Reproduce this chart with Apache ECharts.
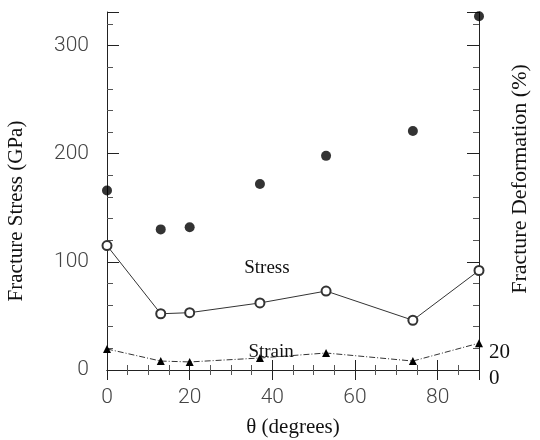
<!DOCTYPE html>
<html>
<head>
<meta charset="utf-8">
<script src="https://cdn.jsdelivr.net/npm/echarts@6/dist/echarts.min.js"></script>
<style>
  html, body { margin: 0; padding: 0; background: #fff; }
  #chart { width: 540px; height: 440px; }
</style>
</head>
<body>
<div id="chart"></div>
<script>
// angles (degrees)
const theta = [0, 13, 20, 37, 53, 74, 90]
// filled circles, GPa
const fracture = [166, 130, 132, 172, 198, 221, 327]
// open circles line, GPa
const stress = [115, 52, 53, 62, 73, 46, 92]
// triangles line, % (right axis)
const strain = [23.5, 10, 9, 13.4, 19, 10, 30]

const pairs = ys => theta.map((t, i) => [t, ys[i]])

const chart = echarts.init(document.getElementById('chart'))

const numFont = { fontFamily: 'Roboto', fontWeight: 300, color: '#444', fontSize: 21 }
const serif = 'Liberation Serif'

chart.setOption({
  animation: false,
  grid: { left: 107, right: 61, top: 12, bottom: 70, containLabel: false, outerBoundsMode: 'none' },
  xAxis: [
    {
      type: 'value', min: 0, max: 90, interval: 20,
      name: 'θ (degrees)', nameLocation: 'middle', nameGap: 47,
      nameTextStyle: { fontFamily: serif, fontSize: 21, color: '#111' },
      axisLine: { lineStyle: { color: '#222' } },
      axisTick: { inside: true, length: 10, lineStyle: { color: '#222' } },
      minorTick: { show: true, splitNumber: 4, length: 5, lineStyle: { color: '#555' } },
      splitLine: { show: false },
      axisLabel: { ...numFont, margin: 17, showMaxLabel: false }
    },
    {
      type: 'value', min: 0, max: 90, interval: 20, position: 'top',
      axisLine: { lineStyle: { color: '#222' } },
      axisTick: { inside: true, length: 10, lineStyle: { color: '#222' } },
      minorTick: { show: true, splitNumber: 4, length: 5, lineStyle: { color: '#555' } },
      splitLine: { show: false },
      axisLabel: { show: false }
    }
  ],
  yAxis: [
    {
      type: 'value', min: 0, max: 331, interval: 100,
      name: 'Fracture Stress (GPa)', nameLocation: 'middle', nameGap: 80,
      nameTextStyle: { fontFamily: serif, fontSize: 21, color: '#111', padding: [0, 40, 0, 0] },
      axisLine: { show: true, lineStyle: { color: '#222' } },
      axisTick: { inside: true, length: 12, lineStyle: { color: '#222' } },
      minorTick: { show: true, splitNumber: 5, length: 6, lineStyle: { color: '#555' } },
      splitLine: { show: false },
      axisLabel: { ...numFont, margin: 18, showMaxLabel: false }
    },
    {
      // strain scale, labels only
      type: 'value', min: 0, max: 400, interval: 20, position: 'right',
      name: 'Fracture Deformation (%)', nameLocation: 'middle', nameGap: 30, nameRotate: 90,
      nameMoveOverlap: false,
      nameTextStyle: { fontFamily: serif, fontSize: 22, color: '#111', padding: [0, 0, 0, 24] },
      axisLine: { show: false },
      axisTick: { show: false },
      splitLine: { show: false },
      axisLabel: {
        fontFamily: serif, fontSize: 21, color: '#111', margin: 10,
        formatter: v => v === 0 ? '{z|0}' : (v === 20 ? '20' : ''),
        rich: { z: { fontFamily: serif, fontSize: 21, color: '#111', padding: [16, 0, 0, 0] } }
      }
    },
    {
      // mirror ticks on the right frame
      type: 'value', min: 0, max: 331, interval: 100, position: 'right',
      axisLine: { show: true, lineStyle: { color: '#222' } },
      axisTick: { inside: true, length: 12, lineStyle: { color: '#222' } },
      minorTick: { show: true, splitNumber: 5, length: 6, lineStyle: { color: '#555' } },
      splitLine: { show: false },
      axisLabel: { show: false }
    }
  ],
  series: [
    {
      type: 'scatter', data: pairs(fracture), xAxisIndex: 0, yAxisIndex: 0,
      symbol: 'circle', symbolSize: 10, clip: false,
      itemStyle: { color: '#000' }
    },
    {
      type: 'line', data: pairs(stress), xAxisIndex: 0, yAxisIndex: 0,
      symbol: 'emptyCircle', symbolSize: 9,
      lineStyle: { color: '#333', width: 1 },
      itemStyle: { color: '#333', borderWidth: 1 },
      markPoint: {
        symbol: 'circle', symbolSize: 1,
        itemStyle: { color: 'rgba(0,0,0,0)' },
        label: { show: true, position: 'inside', formatter: 'Stress', fontFamily: serif, fontSize: 19, color: '#111' },
        data: [{ name: 'Stress', coord: [38.7, 94] }]
      }
    },
    {
      type: 'line', data: pairs(strain), xAxisIndex: 0, yAxisIndex: 1,
      symbol: 'triangle', symbolSize: 8,
      lineStyle: { color: '#333', width: 1, type: [6, 2, 1, 2] },
      itemStyle: { color: '#000' },
      markPoint: {
        symbol: 'circle', symbolSize: 1,
        itemStyle: { color: 'rgba(0,0,0,0)' },
        label: { show: true, position: 'inside', formatter: 'Strain', fontFamily: serif, fontSize: 19, color: '#111' },
        data: [{ name: 'Strain', coord: [39.7, 20] }]
      }
    }
  ]
})
</script>
</body>
</html>
